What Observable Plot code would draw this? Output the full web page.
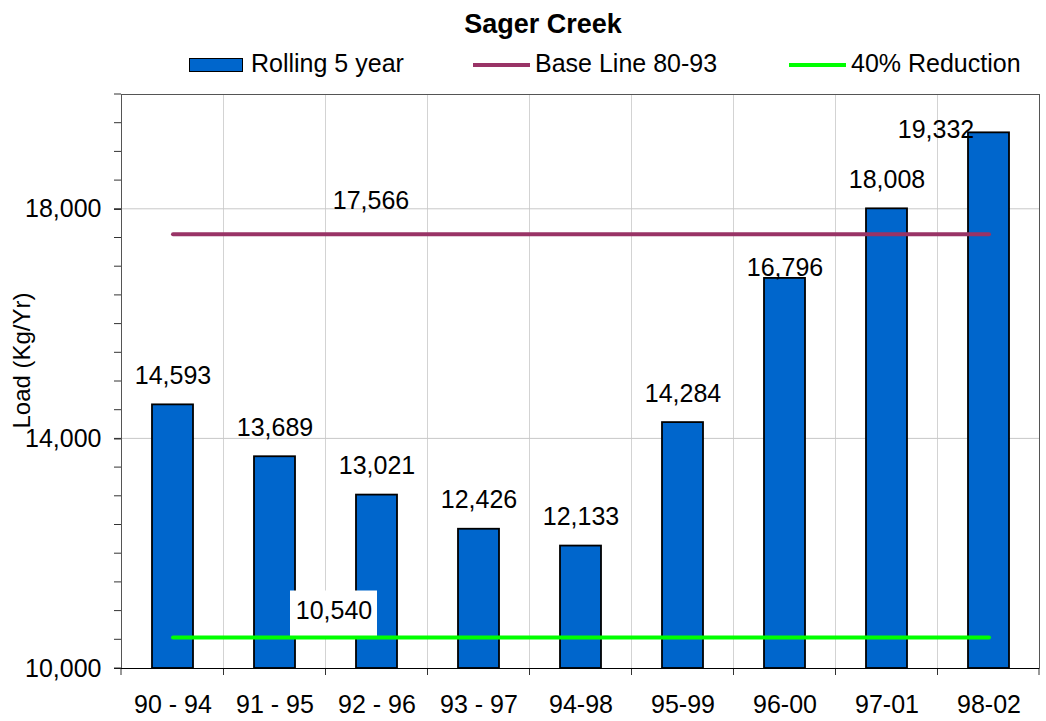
<!DOCTYPE html>
<html><head><meta charset="utf-8">
<script src="https://cdn.jsdelivr.net/npm/d3@7"></script>
<script src="https://cdn.jsdelivr.net/npm/@observablehq/plot@0.6"></script>
<style>
body{margin:0;background:#fff;font-family:"Liberation Sans",Arial,sans-serif;color:#000;}
#header{position:relative;width:1046px;height:80px;}
#title{position:absolute;left:393px;width:300px;top:11px;text-align:center;font-weight:bold;font-size:27px;line-height:27px;white-space:nowrap;}
.leg{position:absolute;top:51px;font-size:25px;line-height:25px;white-space:nowrap;}
.sw{position:absolute;}
#chart svg{display:block;}
</style></head><body>
<div id="header"><div id="title">Sager Creek</div></div>
<div id="chart"></div>
<script>
const categories = ["90 - 94","91 - 95","92 - 96","93 - 97","94-98","95-99","96-00","97-01","98-02"];
const rolling5Year = [14593,13689,13021,12426,12133,14284,16796,18008,19332];
const baseLine = 17566;
const reduction40 = 10540;
const yDomain = [10000, 20000];
const yTicks = [10000, 14000, 18000];
const yMinorStep = 500;
const seriesNames = ["Rolling 5 year", "Base Line 80-93", "40% Reduction"];
const seriesColors = ["#0066CC", "#993366", "#00FF00"];
const chartTitle = "Sager Creek";
const yLabel = "Load (Kg/Yr)";

document.getElementById("title").textContent = chartTitle;

// Legend
const header = document.getElementById("header");
const legendPos = [
  {sw: 189, text: 251, type: "bar"},
  {sw: 473, text: 535, type: "line"},
  {sw: 789, text: 851, type: "line"}
];
seriesNames.forEach((name, i) => {
  const p = legendPos[i];
  const sw = document.createElement("div");
  sw.className = "sw";
  sw.style.left = p.sw + "px";
  if (p.type === "bar") {
    sw.style.top = "58px"; sw.style.width = "52px"; sw.style.height = "12px";
    sw.style.background = seriesColors[i]; sw.style.border = "1.5px solid #000";
  } else {
    sw.style.top = "63px"; sw.style.width = "57px"; sw.style.height = "4px";
    sw.style.background = seriesColors[i];
  }
  header.appendChild(sw);
  const t = document.createElement("div");
  t.className = "leg"; t.style.left = p.text + "px"; t.textContent = name;
  header.appendChild(t);
});

const fmt = d3.format(",");
const barData = categories.map((cat, i) => ({cat, value: rolling5Year[i]}));
const baseData = categories.map(cat => ({cat, value: baseLine}));
const redData = categories.map(cat => ({cat, value: reduction40}));
const minorTicks = d3.range(yDomain[0], yDomain[1] + 1, yMinorStep);

function bw(sx) { return typeof sx.bandwidth === "function" ? sx.bandwidth() : 0; }

// gridlines, category boundary ticks and minor y ticks
function gridMark(index, scales, values, dims) {
  const sx = scales.x, sy = scales.y, b = bw(sx);
  const top = dims.marginTop, bottom = dims.height - dims.marginBottom;
  const left = dims.marginLeft, right = dims.width - dims.marginRight;
  const g = d3.create("svg:g");
  const bounds = [left];
  for (let i = 1; i < categories.length; i++) bounds.push((sx(categories[i-1]) + sx(categories[i])) / 2 + b / 2);
  bounds.push(right);
  bounds.forEach((x, i) => {
    if (i > 0 && i < bounds.length - 1)
      g.append("line").attr("x1", x).attr("x2", x).attr("y1", top).attr("y2", bottom).attr("stroke", "#d3d3d3");
    g.append("line").attr("x1", x).attr("x2", x).attr("y1", bottom).attr("y2", bottom + 7).attr("stroke", "#333");
  });
  yTicks.filter(v => v > yDomain[0]).forEach(v => {
    g.append("line").attr("x1", left).attr("x2", right).attr("y1", sy(v)).attr("y2", sy(v)).attr("stroke", "#c8c8c8");
  });
  minorTicks.forEach(v => {
    g.append("line").attr("x1", left - 7).attr("x2", left).attr("y1", sy(v)).attr("y2", sy(v)).attr("stroke", "#333");
  });
  return g.node();
}

// white box behind the 40% reduction label
function redBox(index, scales, values, dims) {
  const sx = scales.x, sy = scales.y, b = bw(sx);
  const cx = sx(categories[2]) + b / 2 - 43;
  const ly = sy(reduction40);
  const g = d3.create("svg:g");
  g.append("rect").attr("x", cx - 43.5).attr("y", ly - 46.5).attr("width", 87).attr("height", 48).attr("fill", "white");
  return g.node();
}

const txt = {x: "cat", y: "value", text: d => fmt(d.value), lineAnchor: "bottom", fontSize: 25, fill: "#000"};

const chart = Plot.plot({
  width: 1046,
  height: 641,
  marginTop: 14,
  marginBottom: 53,
  marginLeft: 121,
  marginRight: 7,
  style: {fontFamily: "Liberation Sans, Arial, sans-serif", fontSize: "25px", color: "#000", background: "white", overflow: "visible"},
  x: {domain: categories, paddingInner: 0.6, paddingOuter: 0.3, align: 0.5, tickSize: 0, tickPadding: 27, label: null},
  y: {domain: yDomain, ticks: yTicks, tickFormat: d3.format(","), tickSize: 7, tickPadding: 13, label: null},
  marks: [
    gridMark,
    Plot.barY(barData, {x: "cat", y1: yDomain[0], y2: "value", fill: seriesColors[0], stroke: "#000", strokeWidth: 1.8}),
    redBox,
    Plot.lineY(baseData, {x: "cat", y: "value", stroke: seriesColors[1], strokeWidth: 4}),
    Plot.lineY(redData, {x: "cat", y: "value", stroke: seriesColors[2], strokeWidth: 4}),
    Plot.frame({stroke: "#555"}),
    Plot.ruleY([yDomain[0]], {stroke: "#000", strokeWidth: 1.2}),
    Plot.text(barData.filter(d => d.cat !== "96-00" && d.cat !== "98-02"), {...txt, dy: -21}),
    Plot.text(barData.filter(d => d.cat === "96-00"), {...txt, dy: -2}),
    Plot.text(barData.filter(d => d.cat === "98-02"), {...txt, dx: -53, dy: 5}),
    Plot.text([baseData[2]], {...txt, dx: -6, dy: -25}),
    Plot.text([redData[2]], {...txt, dx: -43, dy: -19}),
    Plot.text([yLabel], {text: d => d, frameAnchor: "left", dx: -99, dy: -21, rotate: -90, textAnchor: "middle", lineAnchor: "middle", fontSize: 24, fill: "#000"})
  ]
});
document.getElementById("chart").appendChild(chart);
</script>
</body></html>
